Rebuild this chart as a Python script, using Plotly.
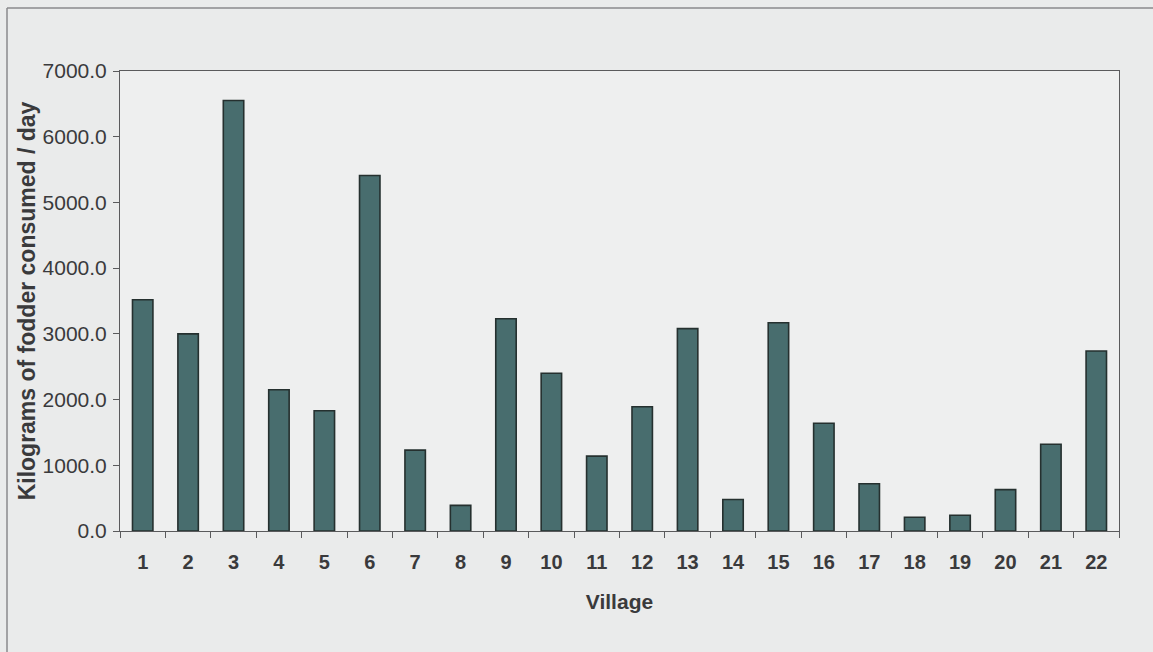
import plotly.graph_objects as go

villages = [str(i) for i in range(1, 23)]
fodder_kg = [3520, 3000, 6550, 2150, 1830, 5410, 1230, 390, 3230, 2400, 1140,
             1890, 3080, 480, 3170, 1640, 720, 210, 240, 630, 1320, 2740]
y_ticks = [0, 1000, 2000, 3000, 4000, 5000, 6000, 7000]

FONT = "Liberation Sans, Arial, sans-serif"
INK = "#3a3a3c"

fig = go.Figure(
    go.Bar(
        x=villages,
        y=fodder_kg,
        marker=dict(color="#486d6e", line=dict(color="#25302f", width=1.6)),
        width=0.45,
    )
)

fig.update_layout(
    width=1153,
    height=652,
    margin=dict(l=120, r=34, t=71, b=121),
    paper_bgcolor="#eaebeb",
    plot_bgcolor="#eeefef",
    showlegend=False,
    font=dict(family=FONT, color=INK, size=20),
)

fig.update_xaxes(
    type="category",
    showline=True, linecolor="#5a5a5c", linewidth=1, mirror=True,
    ticks="outside", tickson="boundaries", ticklen=6, tickcolor="#5a5a5c",
    tickfont=dict(family=FONT, size=20, color=INK, weight="bold"),
    ticklabelstandoff=13,
    showgrid=False,
    title=dict(text="<b>Village</b>", font=dict(family=FONT, size=21, color=INK), standoff=22),
)

fig.update_yaxes(
    range=[0, 7000],
    tickvals=y_ticks,
    tickformat=".1f",
    showline=True, linecolor="#5a5a5c", linewidth=1, mirror=True,
    ticks="outside", ticklen=6, tickcolor="#5a5a5c",
    tickfont=dict(family=FONT, size=21, color=INK),
    ticklabelstandoff=2,
    showgrid=False, zeroline=False,
    title=dict(text="<b>Kilograms of fodder consumed / day</b>",
               font=dict(family=FONT, size=23, color=INK), standoff=0),
)

# frame lines around the figure page
fx = -113 / 999
fy = 1 + 63 / 460
fig.add_shape(type="line", xref="paper", yref="paper", x0=fx, x1=1.1, y0=fy, y1=fy,
              line=dict(color="#8a8a8c", width=1.5))
fig.add_shape(type="line", xref="paper", yref="paper", x0=fx, x1=fx, y0=fy, y1=-0.3,
              line=dict(color="#8a8a8c", width=1.5))

fig.write_html("out.html")
